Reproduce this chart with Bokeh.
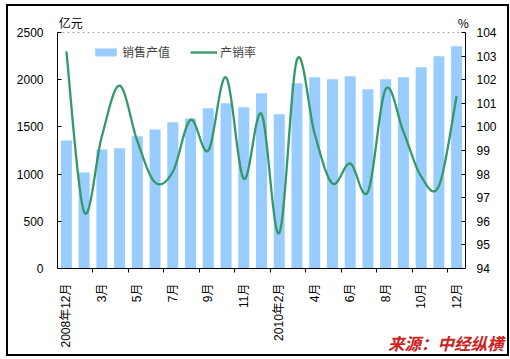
import math
from bokeh.plotting import figure
from bokeh.models import (Range1d, LinearAxis, FixedTicker, ColumnDataSource, Legend,
                          LegendItem, Title)
from bokeh.embed import file_html
from bokeh.resources import INLINE

# ---------------- data ----------------
categories = ["2008年12月", "2009年2月", "3月", "4月", "5月", "6月", "7月", "8月", "9月",
              "10月", "11月", "12月", "2010年2月", "3月", "4月", "5月", "6月", "7月",
              "8月", "9月", "10月", "11月", "12月"]
tick_labels = ["2008年12月", "3月", "5月", "7月", "9月", "11月", "2010年2月",
               "4月", "6月", "8月", "10月", "12月"]
sales_value = [1356, 1017, 1261, 1273, 1401, 1472, 1550, 1590, 1698, 1751, 1709, 1857,
               1635, 1963, 2027, 2005, 2037, 1899, 2005, 2027, 2132, 2249, 2355]
sales_rate = [103.2, 96.4, 99.6, 101.75, 99.4, 97.65, 98.1, 100.3, 99.0, 102.1, 97.8,
              100.55, 95.5, 102.85, 99.7, 97.6, 98.45, 97.25, 101.6, 99.8, 97.9, 97.5, 101.3]
left_ticks = [0, 500, 1000, 1500, 2000, 2500]
right_ticks = [94, 95, 96, 97, 98, 99, 100, 101, 102, 103, 104]
unit_left = "亿元"
unit_right = "%"
source_text = "来源：中经纵横"

FONT = "Liberation Sans, Arial, Noto Sans CJK SC"
CJK = "Noto Sans CJK SC"

n = len(categories)
xs = list(range(n))

# smoothed line (Excel-like bezier through data points)
def smooth(xv, yv, steps=24):
    ox, oy = [], []
    m = len(xv)
    for i in range(m - 1):
        p0 = (xv[max(i - 1, 0)], yv[max(i - 1, 0)])
        p1 = (xv[i], yv[i])
        p2 = (xv[i + 1], yv[i + 1])
        p3 = (xv[min(i + 2, m - 1)], yv[min(i + 2, m - 1)])
        c1 = (p1[0] + (p2[0] - p0[0]) / 6, p1[1] + (p2[1] - p0[1]) / 6)
        c2 = (p2[0] - (p3[0] - p1[0]) / 6, p2[1] - (p3[1] - p1[1]) / 6)
        for k in range(steps + (1 if i == m - 2 else 0)):
            t = k / steps
            a = (1 - t) ** 3
            b = 3 * (1 - t) ** 2 * t
            c = 3 * (1 - t) * t ** 2
            d = t ** 3
            ox.append(a * p1[0] + b * c1[0] + c * c2[0] + d * p2[0])
            oy.append(a * p1[1] + b * c1[1] + c * c2[1] + d * p2[1])
    return ox, oy

sx, sy = smooth(xs, sales_rate)

FW, FH = 408, 236
p = figure(frame_width=FW, frame_height=FH, output_backend="svg", toolbar_location=None,
           x_range=Range1d(-0.5, n - 0.5), y_range=Range1d(0, 2500),
           min_border_left=49, min_border_right=42, min_border_top=26, min_border_bottom=86,
           background_fill_color="white", border_fill_color="white")
p.styles = {"margin-left": "8px", "margin-top": "6px", "outline": "2px solid black"}
p.extra_y_ranges = {"pct": Range1d(94, 104)}

p.outline_line_color = "#A6A6A6"
p.outline_line_dash = "2 3"
p.outline_line_width = 1
p.xgrid.visible = False
p.ygrid.visible = False

src = ColumnDataSource(dict(x=xs, v=sales_value))
bars = p.vbar(x="x", top="v", width=0.62, source=src, fill_color="#99CCFF", line_color=None)
line = p.line(sx, sy, y_range_name="pct", line_color="#339966", line_width=2.3)

# left axis
yax = p.yaxis[0]
yax.ticker = FixedTicker(ticks=left_ticks)
yax.major_tick_in = 4
yax.major_tick_out = 0
yax.minor_tick_line_color = None
yax.major_label_standoff = 14
yax.major_label_text_font = FONT
yax.major_label_text_font_size = "12px"
yax.major_label_text_color = "black"
yax.axis_line_color = "black"

# right axis
rax = LinearAxis(y_range_name="pct", ticker=FixedTicker(ticks=right_ticks))
rax.major_tick_in = 4
rax.major_tick_out = 0
rax.minor_tick_line_color = None
rax.major_label_standoff = 11
rax.major_label_text_font = FONT
rax.major_label_text_font_size = "12px"
rax.major_label_text_color = "black"
p.add_layout(rax, "right")

# bottom axis
xax = p.xaxis[0]
even = [i for i in xs if i % 2 == 0]
xax.ticker = FixedTicker(ticks=even, minor_ticks=[i + 1.5 for i in range(0, n - 2, 2)])
xax.major_label_overrides = {i: lab for i, lab in zip(even, tick_labels)}
xax.major_label_orientation = math.pi / 2
xax.major_tick_line_color = None
xax.major_tick_out = 0
xax.major_tick_in = 0
xax.minor_tick_out = 4
xax.minor_tick_in = 0
xax.minor_tick_line_color = "black"
xax.major_label_standoff = 11
xax.major_label_text_font = FONT
xax.major_label_text_font_size = "12px"
xax.major_label_text_color = "black"
xax.axis_line_color = "black"

# unit captions above the frame (an unlined top axis carrying two labels)
uax = LinearAxis(ticker=FixedTicker(ticks=[0.25, 22.375]))
uax.major_label_overrides = {0.25: unit_left, 22.375: unit_right}
uax.axis_line_color = None
uax.major_tick_line_color = None
uax.minor_tick_line_color = None
uax.major_tick_in = 0
uax.major_tick_out = 0
uax.major_label_standoff = 2
uax.major_label_text_font = CJK
uax.major_label_text_font_size = "12px"
uax.major_label_text_color = "black"
p.add_layout(uax, "above")

# legend
legend = Legend(items=[LegendItem(label="销售产值", renderers=[bars]),
                       LegendItem(label="产销率", renderers=[line])],
                orientation="horizontal", location=(35, 208),
                glyph_width=27, glyph_height=10, label_standoff=3, spacing=20,
                padding=0, margin=0, border_line_color=None, background_fill_alpha=0,
                label_text_font=CJK, label_text_font_size="12px", label_height=14)
p.add_layout(legend, "center")

# source caption
p.add_layout(Title(text=source_text, align="right", offset=-38, standoff=-40,
                   vertical_align="top",
                   text_font=CJK, text_font_size="16.5px", text_font_style="bold italic",
                   text_color="#CC2222"), "below")

open("out.html", "w").write(file_html(p, INLINE))
